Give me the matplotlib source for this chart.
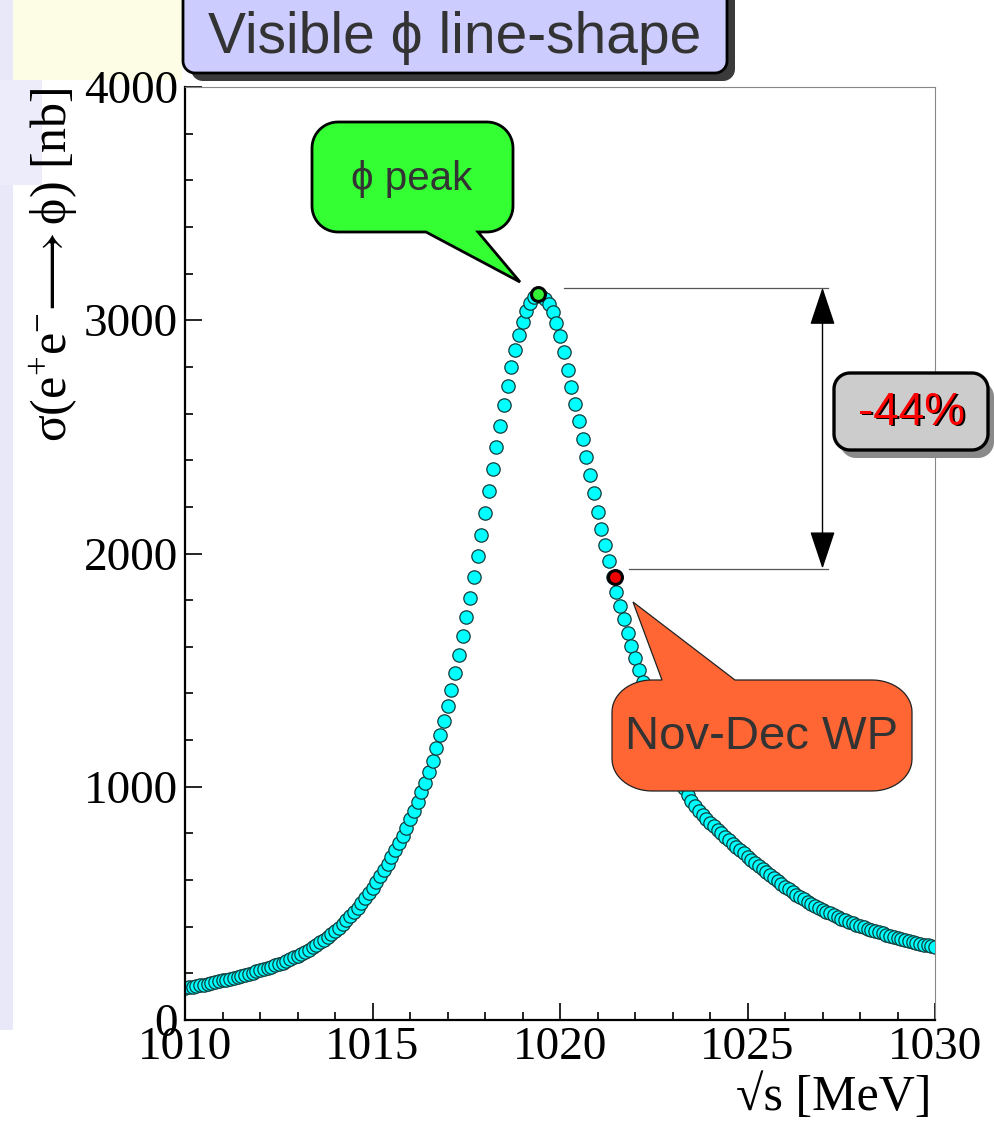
import numpy as np
import matplotlib
matplotlib.use('Agg')
import matplotlib.pyplot as plt
from matplotlib.patches import Polygon, Rectangle
from matplotlib.ticker import MultipleLocator

plt.rcParams['font.family'] = ['Liberation Serif', 'DejaVu Serif']
plt.rcParams['mathtext.fontset'] = 'custom'
plt.rcParams['mathtext.rm'] = 'Liberation Serif'
plt.rcParams['mathtext.it'] = 'Liberation Serif:italic'
plt.rcParams['mathtext.fallback'] = 'stix'

# scan points, one every 0.1 MeV
energy = np.round(np.arange(1010.0, 1030.01, 0.1), 1)

# visible cross section [nb]
sigma = [
    137, 140, 143, 146, 149, 152, 156, 159, 162, 166,
    170, 173, 177, 181, 185, 189, 194, 198, 203, 208,
    213, 218, 223, 229, 234, 240, 246, 253, 260, 268,
    276, 284, 293, 302, 312, 322, 333, 344, 356, 369,
    382, 396, 411, 427, 444, 462, 481, 501, 522, 544,
    567, 591, 616, 642, 669, 697, 727, 758, 790, 824,
    860, 897, 936, 976, 1018, 1062, 1112, 1164, 1220, 1280,
    1345, 1414, 1488, 1565, 1645, 1727, 1811, 1898, 1988, 2080,
    2174, 2268, 2362, 2455, 2546, 2635, 2720, 2800, 2873, 2938,
    2994, 3040, 3075, 3098, 3111,
    3106, 3092, 3070, 3035, 2990, 2932, 2862, 2788, 2715, 2640,
    2568, 2492, 2415, 2336, 2258, 2180, 2106, 2036, 1966, 1900,
    1836, 1776, 1718, 1660, 1604, 1551, 1500, 1451, 1403, 1356,
    1310, 1265, 1221, 1179, 1139, 1100, 1063, 1028, 994, 963,
    938, 916, 897, 879, 862, 846, 831, 815, 800, 785,
    770, 756, 742, 728, 714, 700, 686, 672, 659, 646,
    633, 620, 607, 595, 583, 571, 560, 549, 538, 528,
    518, 508, 499, 490, 481, 473, 465, 457, 449, 442,
    435, 428, 421, 415, 409, 403, 397, 391, 386, 381,
    376, 371, 366, 361, 356, 352, 347, 343, 339, 335,
    331, 327, 323, 320, 316, 313,
]

peak_energy = [1019.42]
peak_sigma = [3111]
wp_energy = [1021.47]
wp_sigma = [1898]
ref_levels = [3140, 1935]   # peak level and working point level
ref_start = [1020.1, 1021.85]
ref_end = 1027.15
arrow_x = 1027.0

W, H = 995, 1132
fig = plt.figure(figsize=(W / 100, H / 100), dpi=100)

# faint slide background on the left
bg = fig.add_axes([0, 0, 1, 1], zorder=-1)
bg.set_xlim(0, W)
bg.set_ylim(H, 0)
bg.axis('off')
bg.add_patch(Rectangle((12, 0), 170, 80, color='#fdfde6', lw=0))
bg.add_patch(Rectangle((0, 0), 13, 1030, color='#e8e8f8', lw=0))
bg.add_patch(Rectangle((0, 80), 42, 105, color='#ececfa', lw=0))

ax = fig.add_axes([185 / W, 1 - 1020 / H, 750 / W, 933 / H])
ax.plot(energy, sigma, 'o', ms=9.6, mfc='#00ffff', mec='#123c3c', mew=0.9, ls='none')
ax.plot(peak_energy, peak_sigma, 'o', ms=10, mfc='#33ee33', mec='black', mew=2.2)
ax.plot(wp_energy, wp_sigma, 'o', ms=10, mfc='#ee0000', mec='black', mew=2.2)

# reference lines and double arrow
for lev, x0 in zip(ref_levels, ref_start):
    ax.plot([x0, ref_end], [lev, lev], color='#555555', lw=0.9, clip_on=False)
ax.annotate('', xy=(arrow_x, ref_levels[0]), xytext=(arrow_x, ref_levels[1]),
            arrowprops=dict(arrowstyle='<|-|>,head_length=1.2,head_width=0.4',
                            mutation_scale=20, color='black', lw=1,
                            shrinkA=0, shrinkB=0))

ax.set_xlim(1010, 1030)
ax.set_ylim(0, 4000)
ax.set_xticks([1010, 1015, 1020, 1025, 1030])
ax.set_yticks([0, 1000, 2000, 3000, 4000])
ax.xaxis.set_minor_locator(MultipleLocator(1))
ax.yaxis.set_minor_locator(MultipleLocator(200))
ax.tick_params(which='both', direction='in', top=False, right=False, width=1.2)
ax.tick_params(which='major', length=12, labelsize=34, pad=5)
ax.tick_params(which='minor', length=6)
for s in ['left', 'bottom']:
    ax.spines[s].set_linewidth(1.6)
for s in ['top', 'right']:
    ax.spines[s].set_linewidth(0.8)
    ax.spines[s].set_color('#888888')

ax.set_ylabel('σ($\\mathrm{e}^{+}\\mathrm{e}^{-}\\!\\longrightarrow$ϕ) [nb]',
              fontsize=36, loc='top')
ax.yaxis.set_label_coords(-0.138, 1.0)
ax.set_xlabel('√s [MeV]', fontsize=36, loc='right')
ax.xaxis.set_label_coords(0.995, -0.058)

# callouts and boxes, in figure pixels
ov = fig.add_axes([0, 0, 1, 1], zorder=5)
ov.set_xlim(0, W)
ov.set_ylim(H, 0)
ov.axis('off')
ov.patch.set_alpha(0)


def bubble(x0, y0, x1, y1, rx, ry, tail=None, where='bottom'):
    def arc(cx, cy, a0, a1):
        t = np.radians(np.linspace(a0, a1, 16))
        return list(zip(cx + rx * np.cos(t), cy + ry * np.sin(t)))
    pts = arc(x0 + rx, y0 + ry, 180, 270)
    if tail and where == 'top':
        b0, b1, tip = tail
        pts += [(b0, y0), tip, (b1, y0)]
    pts += arc(x1 - rx, y0 + ry, 270, 360)
    pts += arc(x1 - rx, y1 - ry, 0, 90)
    if tail and where == 'bottom':
        b0, b1, tip = tail
        pts += [(b1, y1), tip, (b0, y1)]
    pts += arc(x0 + rx, y1 - ry, 90, 180)
    return np.array(pts)


sans = ['Liberation Sans', 'DejaVu Sans']

# title box with shadow
tb = bubble(183, -20, 727, 73, 12, 12)
ov.add_patch(Polygon(tb + [8, 8], closed=True, fc='#3a3a3a', ec='none'))
ov.add_patch(Polygon(tb, closed=True, fc='#ccccff', ec='black', lw=2))
ov.text(455, 38, 'Visible ϕ line-shape', family=sans, fontsize=41,
        color='#333333', ha='center', va='center')

# phi peak bubble
gb = bubble(312, 122, 513, 232, 26, 26, tail=(426, 478, (520, 282)), where='bottom')
ov.add_patch(Polygon(gb, closed=True, fc='#33ff33', ec='black', lw=2))
ov.text(412, 179, 'ϕ peak', family=sans, fontsize=29, color='#333333',
        ha='center', va='center')

# -44% box
pb = bubble(834, 373, 988, 450, 16, 16)
ov.add_patch(Polygon(pb + [6, 8], closed=True, fc='#8a8a8a', ec='none'))
ov.add_patch(Polygon(pb, closed=True, fc='#cccccc', ec='black', lw=2.4))
ov.text(913.5, 414.5, '-44%', family=sans, fontsize=33, color='black',
        ha='center', va='center')
ov.text(912, 413, '-44%', family=sans, fontsize=33, color='#ff0000',
        ha='center', va='center')

# working point bubble
ob = bubble(612, 680, 912, 791, 40, 32, tail=(662, 735, (633, 602)), where='top')
ov.add_patch(Polygon(ob, closed=True, fc='#ff6633', ec='#222222', lw=0.9))
ov.text(762, 737, 'Nov-Dec WP', family=sans, fontsize=34, color='#333333',
        ha='center', va='center')

fig.savefig('out.png', dpi=100)
